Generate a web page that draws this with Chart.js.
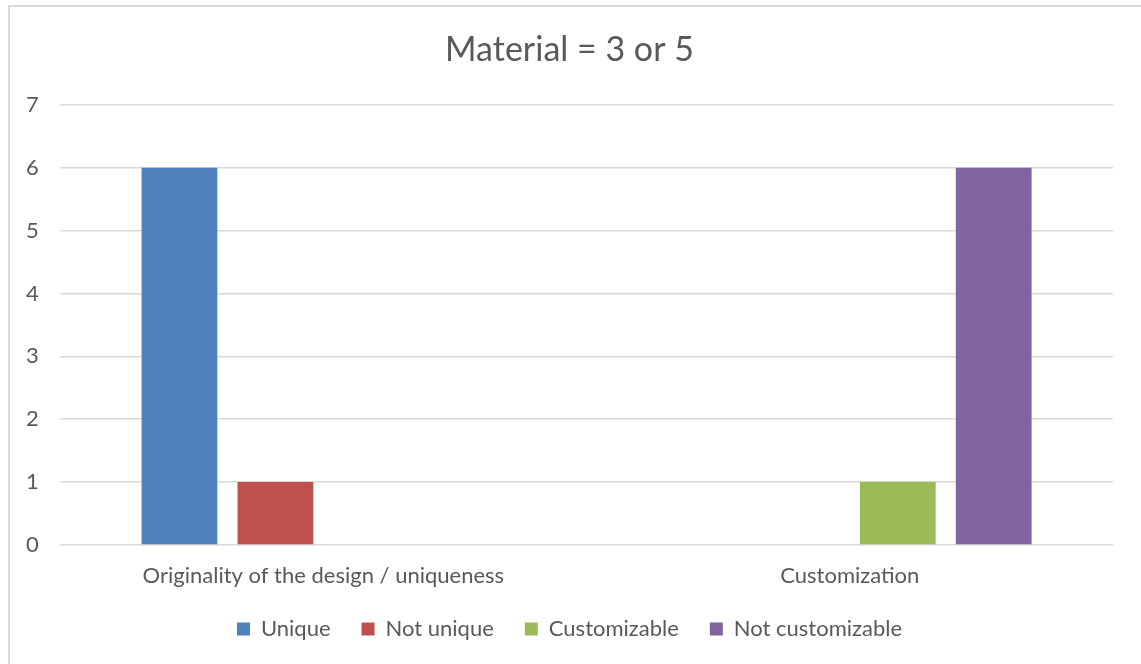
<!DOCTYPE html>
<html>
<head>
<meta charset="utf-8">
<script src="https://cdn.jsdelivr.net/npm/chart.js@4/dist/chart.umd.min.js"></script>
<style>
  html, body { margin: 0; padding: 0; background: #ffffff; overflow: hidden; }
  #frame { position: absolute; left: 8px; top: 5px; width: 1200px; height: 720px; border: 2px solid #d9d9d9; box-sizing: border-box; }
  #wrap { position: absolute; left: 0; top: 0; width: 1141px; height: 664px; }
</style>
</head>
<body>
<div id="frame"></div>
<div id="wrap"><canvas id="c" width="1141" height="664"></canvas></div>
<script>
const categories = ["Originality of the design / uniqueness", "Customization"];
const seriesNames = ["Unique", "Not unique", "Customizable", "Not customizable"];
const unique = [6, null];
const notUnique = [1, null];
const customizable = [null, 1];
const notCustomizable = [null, 6];
const colors = ["#4F81BD", "#C0504D", "#9BBB59", "#8064A2"];
const yTicks = [0, 1, 2, 3, 4, 5, 6, 7];

const FONT = "Lato, 'Open Sans', sans-serif";
const TEXT = "#595959";

const seriesValues = [unique, notUnique, customizable, notCustomizable];

new Chart(document.getElementById("c"), {
  type: "bar",
  data: {
    labels: categories,
    datasets: seriesNames.map((n, i) => ({
      label: n,
      data: seriesValues[i],
      backgroundColor: colors[i],
      borderWidth: 0,
      categoryPercentage: 0.729,
      barPercentage: 0.79
    }))
  },
  options: {
    responsive: false,
    animation: false,
    events: [],
    layout: { padding: { left: 26, right: 28, top: 20, bottom: 14 } },
    plugins: {
      title: {
        display: true,
        text: "Material = 3 or 5",
        color: TEXT,
        font: { family: FONT, size: 34, weight: "normal" },
        padding: { top: 10, bottom: 34 }
      },
      legend: {
        position: "bottom",
        labels: {
          color: TEXT,
          font: { family: FONT, size: 22 },
          boxWidth: 13,
          boxHeight: 13,
          padding: 31
        }
      },
      tooltip: { enabled: false }
    },
    scales: {
      x: {
        afterFit: (s) => { s.height = 42; },
        grid: { display: false, drawTicks: false },
        border: { display: false },
        ticks: { color: TEXT, font: { family: FONT, size: 22 }, padding: 18, maxRotation: 0 }
      },
      y: {
        min: yTicks[0],
        max: yTicks[yTicks.length - 1],
        grid: { color: "#d9d9d9", lineWidth: 1.5, drawTicks: false },
        border: { display: false },
        ticks: {
          color: TEXT,
          font: { family: FONT, size: 22 },
          padding: 10.7,
          crossAlign: "far",
          stepSize: 1,
          callback: (v) => (yTicks.includes(v) ? String(v) : "")
        }
      }
    }
  }
});
</script>
</body>
</html>
